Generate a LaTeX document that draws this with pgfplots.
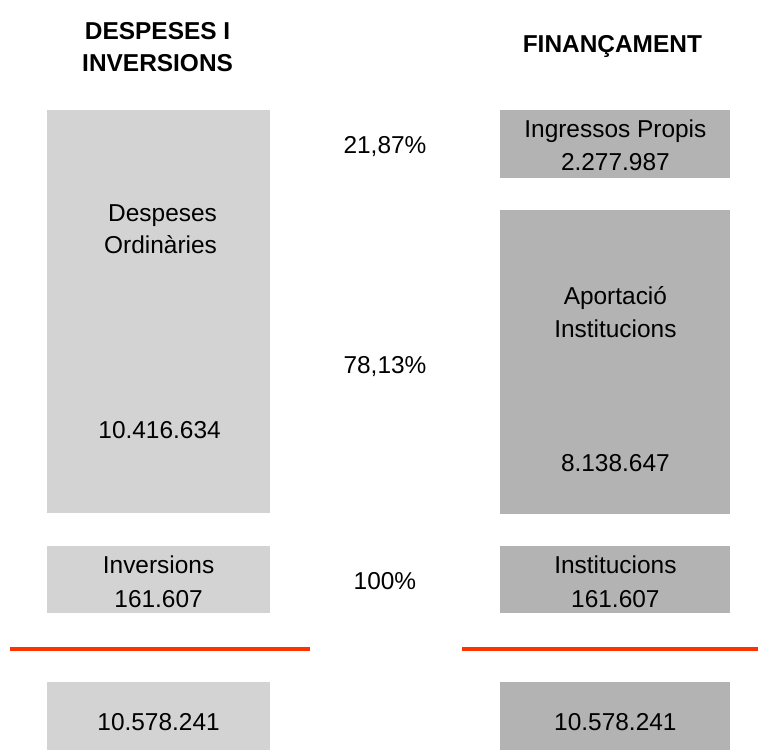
\documentclass[border=0pt]{standalone}
\usepackage{fontspec}
\setmainfont{Liberation Sans}
\usepackage{pgfplots}
\pgfplotsset{compat=1.18}
\definecolor{lgray}{HTML}{D3D3D3}
\definecolor{dgray}{HTML}{B3B3B3}
\definecolor{redor}{HTML}{FF3300}
\begin{document}
\begin{tikzpicture}[
  lbl/.style={font=\fontsize{12.25}{16}\selectfont, anchor=base, inner sep=0pt},
  hdr/.style={font=\fontsize{12.25}{16}\selectfont\bfseries, anchor=base, inner sep=0pt},
]
\begin{axis}[
  width=380pt, height=376pt, scale only axis,
  xmin=0, xmax=760, ymin=0, ymax=752, y dir=reverse,
  axis lines=none, ticks=none, clip=false,
]
\path (rel axis cs:0,0) rectangle (rel axis cs:1,1);
% left column boxes
\addplot[fill=lgray, draw=none] coordinates {(47,110) (271,110) (271,514) (47,514)} --cycle;
\addplot[fill=lgray, draw=none] coordinates {(47,547) (271,547) (271,615) (47,615)} --cycle;
\addplot[fill=lgray, draw=none] coordinates {(47,684) (271,684) (271,752) (47,752)} --cycle;
% right column boxes
\addplot[fill=dgray, draw=none] coordinates {(501,110) (732,110) (732,178) (501,178)} --cycle;
\addplot[fill=dgray, draw=none] coordinates {(501,211) (732,211) (732,515) (501,515)} --cycle;
\addplot[fill=dgray, draw=none] coordinates {(501,547) (732,547) (732,615) (501,615)} --cycle;
\addplot[fill=dgray, draw=none] coordinates {(501,684) (732,684) (732,752) (501,752)} --cycle;
% separators
\addplot[redor, line width=2pt] coordinates {(10,651) (311,651)};
\addplot[redor, line width=2pt] coordinates {(463,651) (760,651)};
% headers
\node[hdr] at (axis cs:158,40) {DESPESES I};
\node[hdr] at (axis cs:158,72) {INVERSIONS};
\node[hdr] at (axis cs:614,53) {FINANÇAMENT};
% percentages
\node[lbl] at (axis cs:386,154) {21,87\%};
\node[lbl] at (axis cs:386,374) {78,13\%};
\node[lbl] at (axis cs:386,591) {100\%};
% left texts
\node[lbl] at (axis cs:163,222) {Despeses};
\node[lbl] at (axis cs:161,254) {Ordinàries};
\node[lbl] at (axis cs:160,440) {10.416.634};
\node[lbl] at (axis cs:159,575) {Inversions};
\node[lbl] at (axis cs:159,609) {161.607};
\node[lbl] at (axis cs:159,732) {10.578.241};
% right texts
\node[lbl] at (axis cs:617,138) {Ingressos Propis};
\node[lbl] at (axis cs:617,171) {2.277.987};
\node[lbl] at (axis cs:617,305) {Aportació};
\node[lbl] at (axis cs:617,338) {Institucions};
\node[lbl] at (axis cs:617,473) {8.138.647};
\node[lbl] at (axis cs:617,575) {Institucions};
\node[lbl] at (axis cs:617,609) {161.607};
\node[lbl] at (axis cs:617,732) {10.578.241};
\end{axis}
\end{tikzpicture}
\end{document}
